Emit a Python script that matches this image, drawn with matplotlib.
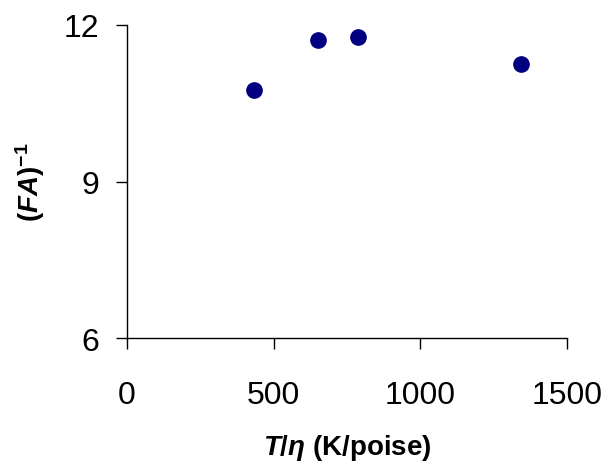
import matplotlib
matplotlib.use('Agg')
import matplotlib.pyplot as plt

plt.rcParams['font.family'] = ['Liberation Sans', 'DejaVu Sans']
plt.rcParams['mathtext.fontset'] = 'custom'
plt.rcParams['mathtext.rm'] = 'Liberation Sans:bold'
plt.rcParams['mathtext.it'] = 'Liberation Sans:italic:bold'
plt.rcParams['mathtext.bf'] = 'Liberation Sans:bold'

# --- Data ---
t_over_eta = [435, 651, 787, 1343]
inv_fa = [10.75, 11.71, 11.77, 11.25]

fig = plt.figure(figsize=(6.07, 4.64), dpi=100)
ax = fig.add_axes([0.209, 0.269, 0.725, 0.675])

ax.plot(t_over_eta, inv_fa, 'o', color='#000080', markersize=11)

ax.set_xlim(0, 1500)
ax.set_ylim(6, 12)
ax.set_xticks([0, 500, 1000, 1500])
ax.set_yticks([6, 9, 12])

for s in ['top', 'right']:
    ax.spines[s].set_visible(False)
for s in ['left', 'bottom']:
    ax.spines[s].set_linewidth(1.0)

ax.tick_params(axis='both', direction='out', length=8, width=1, labelsize=23)
ax.tick_params(axis='x', pad=22)
ax.tick_params(axis='y', pad=12)

ax.set_xlabel(r'$T/\eta$ (K/poise)', fontsize=20, fontweight='bold', labelpad=16)
ax.set_ylabel(r'$(FA)^{-1}$', fontsize=20, fontweight='bold', labelpad=12)

fig.savefig('out.png', dpi=100)
